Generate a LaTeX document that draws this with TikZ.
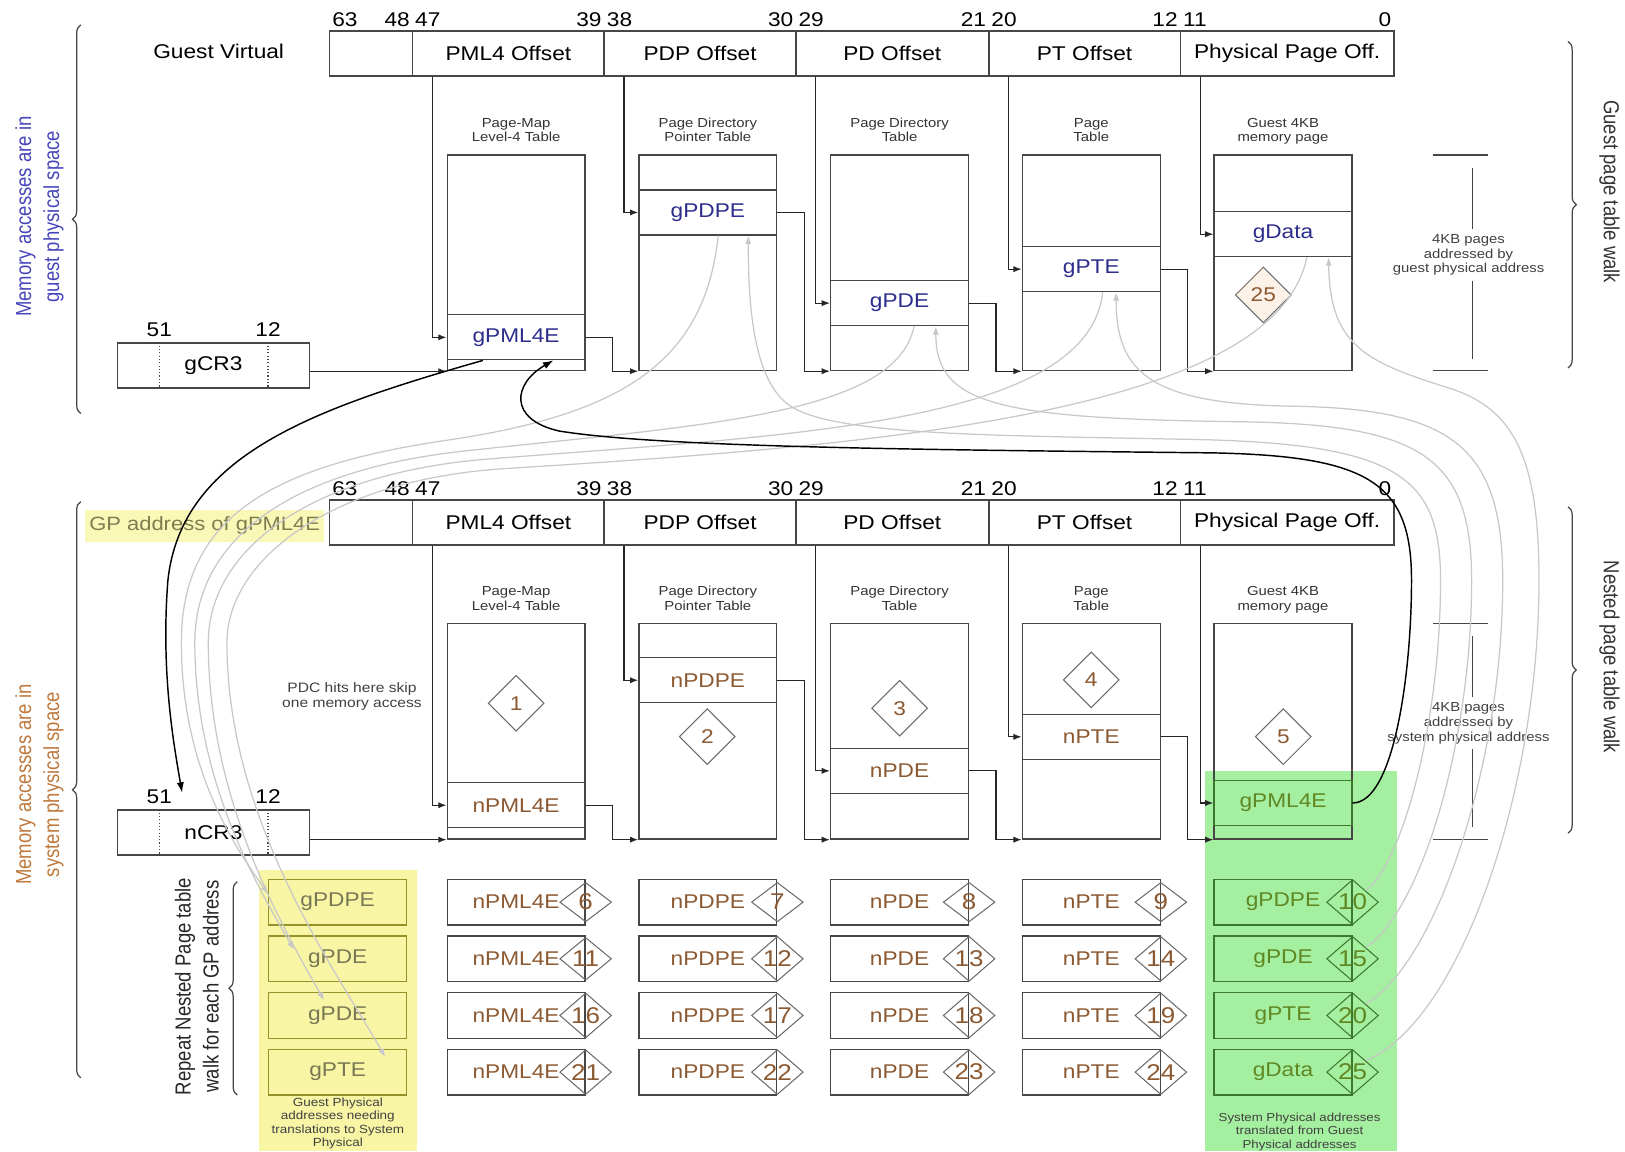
\documentclass[tikz,border=0pt]{standalone}
\usepackage{fontspec}
\setmainfont{Liberation Sans}[FakeStretch=1.14]
\newfontfamily\sidefont{Liberation Sans}[FakeStretch=0.85]
\usetikzlibrary{arrows.meta,calc,positioning,shapes.geometric,decorations.pathreplacing}

\newcommand\fbig{\fontsize{9.6}{11}\selectfont}
\newcommand\fsmall{\fontsize{6.3}{7.2}\selectfont}
\newcommand\fside{\sidefont\fontsize{10.5}{13.5}\selectfont}

\definecolor{gblue}{RGB}{45,45,140}
\definecolor{sideblue}{RGB}{70,70,185}
\definecolor{nbrown}{RGB}{140,90,50}
\definecolor{sidebrown}{RGB}{190,120,60}
\definecolor{boxgray}{RGB}{70,70,70}
\definecolor{hlyellow}{RGB}{248,246,165}
\definecolor{hlgreen}{RGB}{165,240,160}
\definecolor{ytext}{RGB}{120,120,85}
\definecolor{yborder}{RGB}{150,145,40}
\definecolor{ggreen}{RGB}{95,135,35}
\definecolor{gborder}{RGB}{60,120,45}
\definecolor{gptext}{RGB}{125,125,80}
\definecolor{curvegray}{RGB}{200,200,200}
\definecolor{peach}{RGB}{253,242,232}

\begin{document}
\begin{tikzpicture}[x=0.5pt,y=-0.5pt,
  every node/.style={font=\fbig},
  field/.style={draw=boxgray,line width=0.8pt,minimum height=21.7pt,inner sep=0pt},
  bitno/.style={inner sep=1.5pt,font=\fontsize{9.6}{10}\selectfont},
  tbl/.style={draw=boxgray,line width=0.6pt,minimum width=66.5pt,minimum height=104pt,inner sep=0pt},
  head/.style={align=center,font=\fsmall,text=black!80,inner sep=1pt,text depth=0pt},
  entry/.style={draw=boxgray,line width=0.6pt,minimum width=66.5pt,minimum height=21.7pt,inner sep=0pt},
  gridbox/.style={entry,minimum height=22pt},
  bigdia/.style={diamond,draw=boxgray!80,line width=0.5pt,fill=white,minimum width=27pt,minimum height=27pt,inner sep=0pt,text=nbrown},
  smalldia/.style={diamond,draw=boxgray!80,line width=0.5pt,minimum width=25pt,minimum height=19pt,inner sep=0pt,font=\fontsize{11}{11}\selectfont},
  link/.style={draw=black!85,line width=0.6pt,-{Latex[length=4pt,width=3pt]}},
  back/.style={draw=black,line width=0.7pt,-{Latex[length=5pt,width=3.5pt]}},
  ghost/.style={draw=curvegray,line width=0.6pt,-{Latex[length=4pt,width=3pt]}},
  brace/.style={decorate,decoration={brace,amplitude=4pt},draw=boxgray,line width=0.6pt},
  dimline/.style={draw=boxgray,line width=0.6pt},
  side/.style={font=\fside,align=center},
  note/.style={font=\fsmall,align=center,text=black!75}]
\useasboundingbox (0,0) rectangle (1568,1111);

% highlighted columns
\fill[hlyellow] (250,839.5) rectangle (402.6,1111);
\fill[hlgreen] (1162.7,744) rectangle (1348.2,1111);
\node[fill=hlyellow!80,text=gptext,minimum width=115.5pt,minimum height=15.5pt,inner sep=0pt,font=\fontsize{9.3}{10}\selectfont] (gpaddr) at (197.5,507.5) {GP address of gPML4E};

% address bars, guest on top, nested below
\foreach \p/\yy in {g/51.6,n/504.2} {
  \foreach \i/\cx/\w/\lab/\lft/\rgt in {0/358/40/{}/63/48,1/490.5/92.5/PML4 Offset/47/39,2/675.5/92.5/PDP Offset/38/30,3/861/93/PD Offset/29/21,4/1046.5/92.5/PT Offset/20/12,5/1242/103/Physical Page Off./11/0} {
    \node[field,minimum width=\w pt] (\p v\i) at (\cx,\yy) {\lab};
    \node[bitno,anchor=south west] (\p l\i) at (\p v\i.north west) {\lft};
    \node[bitno,anchor=south east] (\p r\i) at (\p v\i.north east) {\rgt};
  }
}
\node (gvirt) at (211,50) {Guest Virtual};

% CR3 registers
\foreach \p/\yy/\lab in {g/352.6/gCR3,n/803.2/nCR3} {
  \node[field,minimum width=92.5pt,minimum height=21.5pt] (\p cr3) at (206,\yy) {\lab};
  \draw[densely dotted,boxgray,line width=0.6pt] ($(\p cr3.north west)+(41,0)$) -- ($(\p cr3.south west)+(41,0)$)
    ($(\p cr3.north west)+(146,0)$) -- ($(\p cr3.south west)+(146,0)$);
  \node[bitno] (\p cr3hi) at ($(\p cr3.north west)+(41,-12)$) {51};
  \node[bitno] (\p cr3lo) at ($(\p cr3.north west)+(146,-12)$) {12};
}

% tables
\foreach \i/\cx/\ha/\hb in {1/498/Page-Map/Level-4 Table,2/683/Page Directory/Pointer Table,3/868/Page Directory/Table,4/1053/Page/Table,5/1238/Guest 4KB/memory page} {
  \node[tbl] (tg\i) at (\cx,253.6) {};
  \node[head,above=4.8pt of tg\i] (hg\i) {\ha\\\hb};
  \node[tbl] (tn\i) at (\cx,705.6) {};
  \node[head,above=4.8pt of tn\i] (hn\i) {\ha\\\hb};
}

% entries
\node[entry,text=gblue] (gpml4e) at (498,325.5) {gPML4E};
\node[entry,text=gblue] (gpdpe) at (683,205) {gPDPE};
\node[entry,text=gblue] (gpde) at (868,292.5) {gPDE};
\node[entry,text=gblue] (gpte) at (1053,259.7) {gPTE};
\node[entry,text=gblue] (gdata) at (1238,226) {gData};
\node[entry,text=nbrown] (npml4e) at (498,777) {nPML4E};
\node[entry,text=nbrown] (npdpe) at (683,656.4) {nPDPE};
\node[entry,text=nbrown] (npde) at (868,743.8) {nPDE};
\node[entry,text=nbrown] (npte) at (1053,711) {nPTE};
\node[entry,draw=gborder,text=ggreen] (gpml4en) at (1238,774.8) {gPML4E};

\node[bigdia,fill=peach] (d25) at (1219,284.6) {25};
\node[bigdia] (d1) at (498,678.6) {1};
\node[bigdia] (d2) at (682.5,710.8) {2};
\node[bigdia] (d3) at (868,683.4) {3};
\node[bigdia] (d4) at (1053,656) {4};
\node[bigdia] (d5) at (1238.3,710.8) {5};

% walk arrows
\foreach \f/\e in {gv1/gpml4e,gv2/gpdpe,gv3/gpde,gv4/gpte,gv5/gdata,nv1/npml4e,nv2/npdpe,nv3/npde,nv4/npte,nv5/gpml4en}
  \draw[link] ($(\f.south west)+(20,0)$) |- (\e.west);
\draw[link] (gcr3.east |- tg1.south west) -- (tg1.south west);
\draw[link] (ncr3.east |- tn1.south west) -- (tn1.south west);
\foreach \e/\t in {gpml4e/tg2,gpdpe/tg3,gpde/tg4,gpte/tg5,npml4e/tn2,npdpe/tn3,npde/tn4,npte/tn5}
  \draw[link] (\e.east) -- ++(26,0) |- (\t.south west);

% repeated nested walks
\foreach \r/\ya/\ga in {0/gPDPE/gPDPE,1/gPDE/gPDE,2/gPDE/gPTE,3/gPTE/gData} {
  \pgfmathsetmacro\yy{870.5+54.67*\r}
  \node[gridbox,draw=yborder,text=ytext] (y\r) at (325.8,\yy) {\ya};
  \foreach \c/\cx/\lab in {1/498/nPML4E,2/683/nPDPE,3/868/nPDE,4/1053/nPTE} {
    \pgfmathtruncatemacro\num{5+5*\r+\c}
    \node[gridbox,text=nbrown] (w\r\c) at (\cx,\yy) {\lab};
    \node[smalldia,text=nbrown] (k\r\c) at (w\r\c.east) {\num};
  }
  \pgfmathtruncatemacro\num{10+5*\r}
  \node[gridbox,draw=gborder,text=ggreen] (w\r5) at (1238,\yy) {\ga};
  \node[smalldia,draw=gborder,text=ggreen] (k\r5) at (w\r5.east) {\num};
}
\node[note,font=\fontsize{5.7}{6.4}\selectfont] (ynote) at (326,1084) {Guest Physical\\addresses needing\\translations to System\\Physical};
\node[note,font=\fontsize{5.6}{6.5}\selectfont] (gnote) at (1254,1092) {System Physical addresses\\translated from Guest\\Physical addresses};
\node[note,font=\fontsize{6.6}{7.6}\selectfont] (pdc) at (339.6,672) {PDC hits here skip\\one memory access};

% page size marks
\node[note] (kbg) at (1417,246) {4KB pages\\addressed by\\guest physical address};
\node[note] (kbn) at (1417,698) {4KB pages\\addressed by\\system physical address};
\foreach \dy in {0,452} {
  \draw[dimline] (1382.6,{149.6+\dy}) -- (1435.8,{149.6+\dy}) (1382.6,{357.7+\dy}) -- (1435.8,{357.7+\dy});
  \draw[dimline] (1421,{162+\dy}) -- (1421,{221+\dy}) (1421,{271+\dy}) -- (1421,{346+\dy});
}

% braces and side labels
\draw[brace] (78,399) -- (78,24);
\draw[brace] (78,1040) -- (78,484);
\draw[brace] (1513,40) -- (1513,355);
\draw[brace] (1513,489) -- (1513,804);
\draw[brace] (229,1056.6) -- (229,850.7);
\node[side,rotate=90,text=sideblue] (gspace) at (38,209) {Memory accesses are in\\guest physical space};
\node[side,rotate=90,text=sidebrown] (nspace) at (38,757) {Memory accesses are in\\system physical space};
\node[side,rotate=-90,text=black!80] (gwalk) at (1553,185) {Guest page table walk};
\node[side,rotate=-90,text=black!80] (nwalk) at (1553,634) {Nested page table walk};
\node[side,rotate=90,text=black!85] (repeat) at (190,952) {Repeat Nested Page table\\walk for each GP address};

% guest physical addresses sent to the nested walk
\draw[ghost] ($(gpdpe.south)+(10,0)$) .. controls (680,350) and (600,400) .. (430,425) .. controls (260,450) and (175,500) .. (175,620) .. controls (175,740) and (225,815) .. ($(y0.west)+(0,-8)$);
\draw[ghost] ($(gpde.south)+(14,0)$) .. controls (865,400) and (680,410) .. (450,435) .. controls (280,453) and (188,520) .. (188,620) .. controls (188,750) and (245,850) .. ($(y1.north west)+(25,14)$);
\draw[ghost] ($(gpte.south)+(11,0)$) .. controls (1050,410) and (760,420) .. (470,443) .. controls (300,457) and (201,530) .. (201,620) .. controls (201,770) and (270,890) .. ($(y2.north west)+(54,8)$);
\draw[ghost] ($(gdata.south)+(23,0)$) .. controls (1230,400) and (840,430) .. (490,452) .. controls (320,462) and (219,540) .. (219,620) .. controls (219,790) and (320,930) .. ($(y3.north west)+(113,8)$);

% translated addresses back to the guest walk
\draw[ghost] (k05.north east) .. controls (1352,835) and (1390,700) .. (1390,560) .. controls (1390,460) and (1350,428) .. (1150,424) .. controls (950,420) and (800,420) .. (760,390) .. controls (728,365) and (722,300) .. ($(gpdpe.south)+(39,0)$);
\draw[ghost] (k15.north east) .. controls (1370,880) and (1420,720) .. (1420,560) .. controls (1420,440) and (1370,410) .. (1200,407) .. controls (960,404) and (903,390) .. ($(gpde.south)+(35,0)$);
\draw[ghost] (k25.north east) .. controls (1385,930) and (1450,740) .. (1450,560) .. controls (1450,430) and (1400,395) .. (1250,392) .. controls (1110,390) and (1077,360) .. ($(gpte.south)+(24,0)$);
\draw[ghost] (k35.north east) .. controls (1410,985) and (1485,760) .. (1485,560) .. controls (1485,440) and (1460,395) .. (1400,375) .. controls (1320,350) and (1283,335) .. ($(gdata.south)+(44,0)$);

% gPML4E lookup through the nested walk
\draw[back] ($(gpml4e.south west)+(35,0)$) .. controls (300,395) and (175,440) .. (162,560) .. controls (155,650) and (168,720) .. ($(ncr3.north west)+(63,-16)$);
\draw[back] (gpml4en.east) .. controls (1345,775) and (1362,650) .. (1362,560) .. controls (1362,465) and (1320,440) .. (1170,437) .. controls (900,434) and (640,432) .. (540,416) .. controls (490,405) and (495,370) .. ($(gpml4e.south)+(36,0)$);
\end{tikzpicture}
\end{document}
